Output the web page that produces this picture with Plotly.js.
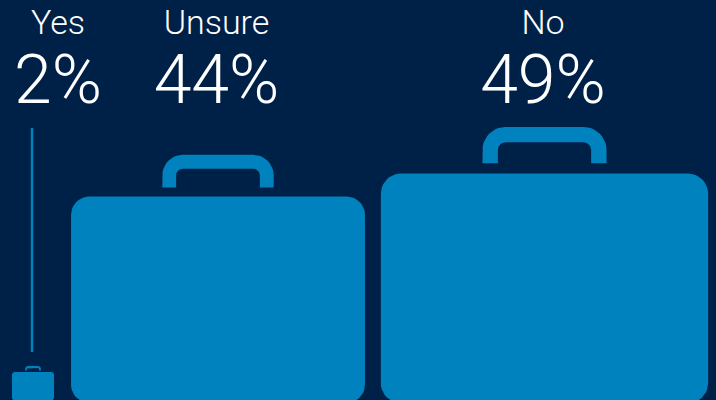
<!DOCTYPE html>
<html><head><meta charset="utf-8">
<script src="https://cdn.plot.ly/plotly-3.0.1.min.js"></script>
<style>html,body{margin:0;padding:0;background:#002147;overflow:hidden}</style>
</head><body><div id="chart" style="width:716px;height:400px"></div>
<script>
const categories = ['Yes', 'Unsure', 'No'];
const values = [2, 44, 49];

// Layout constants, in axis units (axis spans the 716x400 canvas)
const BG = '#002147', BLUE = '#0082BF';
const centers = [33, 218, 544.5];
const WIDTH_PER_PCT = 6.68, HEIGHT_PER_PCT = 4.69, MIN_WIDTH = 42, MIN_HEIGHT = 28.5;

function arc(cx, cy, r, a0, a1) {
  const pts = [];
  for (let i = 0; i <= 10; i++) {
    const a = (a0 + (a1 - a0) * i / 10) * Math.PI / 180;
    pts.push([cx + r * Math.cos(a), cy + r * Math.sin(a)]);
  }
  return pts;
}
function roundRect(x0, x1, y0, y1, r) {
  return [].concat(
    arc(x0 + r, y1 - r, r, 180, 90), arc(x1 - r, y1 - r, r, 90, 0),
    arc(x1 - r, y0 + r, r, 0, -90), arc(x0 + r, y0 + r, r, -90, -180));
}
function handle(x0, x1, y0, y1, t, R) {
  const r = Math.max(R - t, 0.5);
  return [].concat(
    [[x0, y0]], arc(x0 + R, y1 - R, R, 180, 90), arc(x1 - R, y1 - R, R, 90, 0),
    [[x1, y0], [x1 - t, y0]], arc(x1 - t - r, y1 - t - r, r, 0, 90),
    arc(x0 + t + r, y1 - t - r, r, 90, 180), [[x0 + t, y0], [x0, y0]]);
}
function polyTrace(pts) {
  return { type: 'scatter', mode: 'lines', x: pts.map(p => p[0]), y: pts.map(p => p[1]),
    fill: 'toself', fillcolor: BLUE, line: { width: 0, color: BLUE }, hoverinfo: 'skip', showlegend: false };
}

const traces = [];
values.forEach((v, i) => {
  const w = Math.max(v * WIDTH_PER_PCT, MIN_WIDTH), h = Math.max(v * HEIGHT_PER_PCT, MIN_HEIGHT), c = centers[i];
  const bottom = -3 * w / 300, top = bottom + h;
  traces.push(polyTrace(roundRect(c - w / 2, c + w / 2, bottom, top, w * 0.062)));
  const hw = w * 0.1895, gap = w * 0.031, hh = w * 0.111;
  traces.push(polyTrace(handle(c - hw, c + hw, top + gap, top + gap + hh, w * 0.047, w * 0.07)));
});
// Leader line above the small Yes case
traces.push({ type: 'scatter', mode: 'lines', x: [centers[0] - 1, centers[0] - 1], y: [48, 272],
  line: { color: BLUE, width: 2.5 }, hoverinfo: 'skip', showlegend: false });
// Labels
const textX = [58, 216.5, 543];
traces.push({ type: 'scatter', mode: 'text', x: textX, y: textX.map(() => 375), text: categories,
  textposition: 'middle center', textfont: { family: 'Roboto', size: 34, color: '#fff', weight: 300 },
  hoverinfo: 'skip', showlegend: false });
traces.push({ type: 'scatter', mode: 'text', x: textX, y: textX.map(() => 314), text: values.map(v => v + '%'),
  textposition: 'middle center', textfont: { family: 'Roboto', size: 68, color: '#fff', weight: 300 },
  hoverinfo: 'skip', showlegend: false });

Plotly.newPlot('chart', traces, {
  width: 716, height: 400, margin: { l: 0, r: 0, t: 0, b: 0 },
  paper_bgcolor: BG, plot_bgcolor: BG, showlegend: false,
  xaxis: { range: [0, 716], visible: false, fixedrange: true },
  yaxis: { range: [0, 400], visible: false, fixedrange: true }
}, { displayModeBar: false, staticPlot: true });
</script></body></html>
